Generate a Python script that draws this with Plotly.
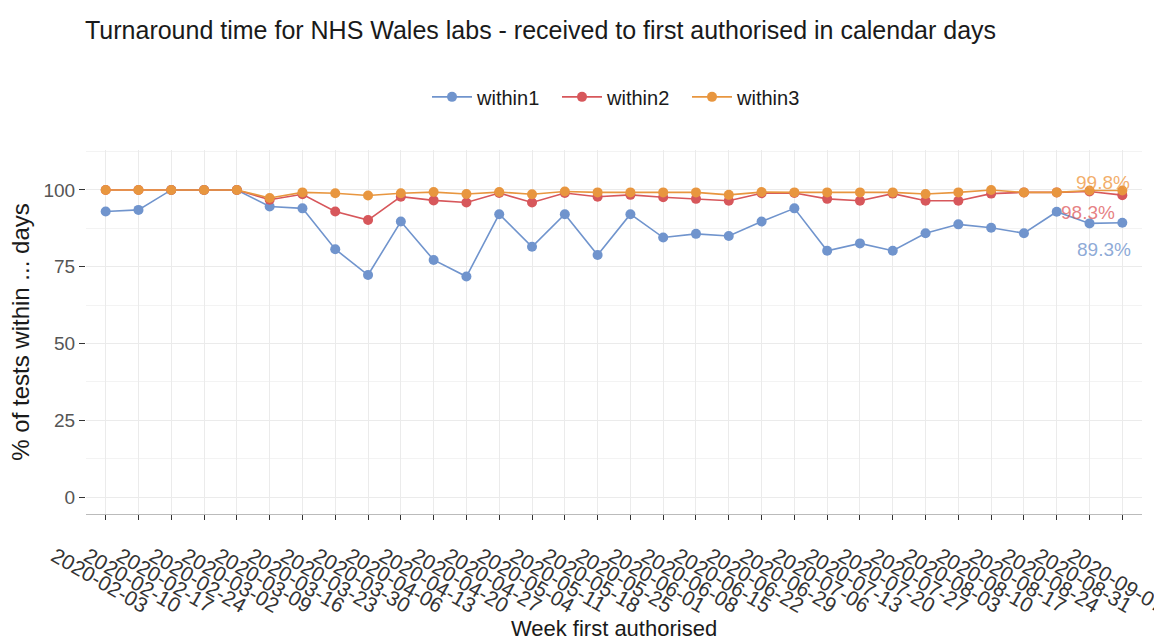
import plotly.graph_objects as go

weeks = ["2020-02-03", "2020-02-10", "2020-02-17", "2020-02-24", "2020-03-02", "2020-03-09",
         "2020-03-16", "2020-03-23", "2020-03-30", "2020-04-06", "2020-04-13", "2020-04-20",
         "2020-04-27", "2020-05-04", "2020-05-11", "2020-05-18", "2020-05-25", "2020-06-01",
         "2020-06-08", "2020-06-15", "2020-06-22", "2020-06-29", "2020-07-06", "2020-07-13",
         "2020-07-20", "2020-07-27", "2020-08-03", "2020-08-10", "2020-08-17", "2020-08-24",
         "2020-08-31", "2020-09-07"]

within1 = [93.0, 93.5, 100, 100, 100, 94.6, 94.0, 80.7, 72.3, 89.7, 77.2, 71.8,
           92.1, 81.5, 92.1, 78.8, 92.1, 84.5, 85.7, 85.0, 89.7, 94.0, 80.2, 82.6,
           80.2, 85.9, 88.8, 87.7, 85.9, 92.9, 89.1, 89.3]
within2 = [100, 100, 100, 100, 100, 96.8, 98.6, 93.0, 90.2, 97.8, 96.6, 95.9,
           99.0, 95.9, 99.0, 97.8, 98.4, 97.6, 97.1, 96.5, 98.9, 99.0, 97.1, 96.5,
           98.8, 96.5, 96.5, 98.8, 99.2, 99.2, 99.5, 98.3]
within3 = [100, 100, 100, 100, 100, 97.4, 99.2, 98.9, 98.2, 98.9, 99.3, 98.7,
           99.3, 98.6, 99.5, 99.2, 99.2, 99.2, 99.2, 98.4, 99.3, 99.2, 99.2, 99.2,
           99.2, 98.7, 99.2, 100, 99.2, 99.2, 99.8, 99.8]

series = [("within1", within1, "#7094CD", "rgba(112,148,205,0.8)", -18, -27),
          ("within2", within2, "#D7575B", "rgba(224,96,100,0.8)", -34, -17),
          ("within3", within3, "#E8963F", "rgba(240,160,80,0.85)", -19, 8)]

FONT = "Liberation Sans, Arial, sans-serif"
fig = go.Figure()
for name, vals, col, lcol, xs, ys in series:
    fig.add_trace(go.Scatter(x=weeks, y=vals, name=name, mode="lines+markers",
                             line=dict(color=col, width=1.6),
                             marker=dict(color=col, size=10)))
    fig.add_annotation(x=weeks[-1], y=vals[-1], text=f"{vals[-1]:.1f}%", showarrow=False,
                       xshift=xs, yshift=ys, font=dict(family=FONT, size=19, color=lcol))

fig.update_layout(
    width=1154, height=641,
    margin=dict(l=86, r=12, t=150, b=127, autoexpand=False),
    paper_bgcolor="white", plot_bgcolor="white",
    font=dict(family=FONT, color="#222222"),
    title=dict(text="Turnaround time for NHS Wales labs - received to first authorised in calendar days",
               xref="container", yref="container", x=85/1154, xanchor="left",
               y=1-30/641, yanchor="middle", font=dict(size=25, color="#1a1a1a")),
    legend=dict(orientation="h", x=(427-86)/1056, xanchor="left",
                y=1.146, yanchor="middle", entrywidth=75, entrywidthmode="pixels",
                font=dict(size=20, color="#1a1a1a"), itemwidth=40),
    showlegend=True,
)
fig.update_xaxes(type="category", range=[-0.6, 31.6], showgrid=True, gridcolor="#EBEBEB",
                 showline=True, linecolor="#BBBBBB", linewidth=1, automargin=False,
                 ticks="outside", ticklen=5, tickcolor="#333333",
                 tickangle=30, tickfont=dict(size=21, color="#333333"),
                 ticklabelshift=-51, ticklabelstandoff=16,
                 title=dict(text="Week first authorised", font=dict(size=22, color="#1a1a1a"), standoff=8))
fig.update_yaxes(range=[-5.5, 113], tickvals=[0, 25, 50, 75, 100], showgrid=True,
                 gridcolor="#EBEBEB", zeroline=False, showline=False, automargin=False,
                 ticks="outside", ticklen=6, tickcolor="#333333",
                 tickfont=dict(size=19, color="#555555"),
                 minor=dict(tickvals=[12.5, 37.5, 62.5, 87.5, 112.5], showgrid=True, gridcolor="#F3F3F3"),
                 title=dict(text="% of tests within ... days", font=dict(size=24, color="#1a1a1a"), standoff=7))
fig.write_html("out.html", config={"displayModeBar": False},
               post_script="document.body.style.margin='0';")
